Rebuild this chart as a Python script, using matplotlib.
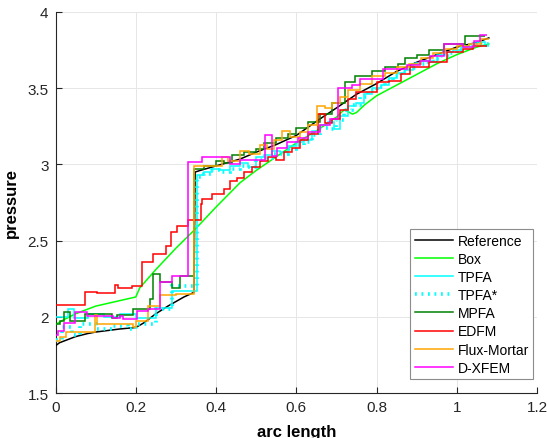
import matplotlib
matplotlib.use("Agg")
import matplotlib.pyplot as plt
from matplotlib.lines import Line2D

plt.rcParams['font.family'] = ['Liberation Sans', 'DejaVu Sans']

# ---------------- data ----------------
ref_x = [0, 0.01, 0.03, 0.05, 0.08, 0.10, 0.13, 0.16, 0.20, 0.22, 0.25, 0.28, 0.30, 0.32, 0.345,
         0.348, 0.36, 0.40, 0.46, 0.50, 0.55, 0.60, 0.66, 0.70, 0.75, 0.80, 0.85, 0.90, 0.95, 1.00, 1.05, 1.08]
ref_y = [1.81, 1.83, 1.85, 1.87, 1.89, 1.90, 1.91, 1.92, 1.93, 1.96, 2.02, 2.07, 2.10, 2.13, 2.16,
         2.95, 2.96, 2.99, 3.035, 3.08, 3.13, 3.19, 3.30, 3.37, 3.46, 3.53, 3.61, 3.67, 3.72, 3.77, 3.80, 3.83]

box_x = [0, 0.02, 0.05, 0.10, 0.15, 0.20, 0.21, 0.25, 0.30, 0.35, 0.40, 0.46, 0.50, 0.55, 0.60, 0.65,
         0.70, 0.72, 0.74, 0.75, 0.77, 0.80, 0.85, 0.90, 0.95, 1.00, 1.05, 1.08]
box_y = [1.95, 1.98, 2.02, 2.07, 2.10, 2.13, 2.19, 2.31, 2.45, 2.58, 2.72, 2.88, 2.96, 3.05, 3.14, 3.22,
         3.31, 3.36, 3.33, 3.34, 3.39, 3.45, 3.52, 3.59, 3.66, 3.72, 3.77, 3.79]

tpfa_edges = [0, 0.03, 0.045, 0.08, 0.12, 0.16, 0.2, 0.25, 0.29, 0.352, 0.37, 0.39, 0.41, 0.435, 0.46,
              0.48, 0.5, 0.52, 0.54, 0.56, 0.58, 0.6, 0.62, 0.64, 0.66, 0.68, 0.695, 0.71, 0.73, 0.75,
              0.77, 0.79, 0.81, 0.83, 0.85, 0.87, 0.89, 0.91, 0.93, 0.95, 0.97, 0.99, 1.01, 1.03, 1.05,
              1.07, 1.08]
tpfa_vals = [2.00, 2.05, 1.99, 2.02, 2.00, 2.02, 1.99, 2.06, 2.17, 2.93, 2.95, 2.97, 2.96, 2.99, 3.01,
             2.98, 3.05, 3.06, 3.09, 3.08, 3.12, 3.15, 3.16, 3.22, 3.26, 3.28, 3.23, 3.32, 3.38, 3.40,
             3.46, 3.50, 3.52, 3.57, 3.60, 3.62, 3.66, 3.68, 3.67, 3.72, 3.74, 3.75, 3.77, 3.79, 3.80, 3.78]

tpfas_edges = [0, 0.015, 0.04, 0.06, 0.1, 0.14, 0.18, 0.2, 0.25, 0.29, 0.352, 0.37, 0.39, 0.41, 0.435,
               0.46, 0.48, 0.5, 0.52, 0.54, 0.56, 0.58, 0.6, 0.62, 0.64, 0.66, 0.68, 0.7, 0.72, 0.74,
               0.76, 0.78, 0.8, 0.82, 0.84, 0.86, 0.88, 0.9, 0.92, 0.94, 0.96, 0.98, 1.0, 1.02, 1.04,
               1.06, 1.08]
tpfas_vals = [1.85, 1.93, 1.88, 1.95, 1.92, 1.94, 1.92, 1.95, 2.05, 2.20, 2.92, 2.94, 2.96, 2.95, 2.97,
              2.99, 2.98, 3.03, 3.04, 3.07, 3.07, 3.10, 3.13, 3.15, 3.19, 3.24, 3.23, 3.29, 3.36, 3.39,
              3.44, 3.48, 3.51, 3.55, 3.58, 3.61, 3.63, 3.66, 3.67, 3.69, 3.71, 3.73, 3.75, 3.77, 3.79, 3.79]

mpfa_edges = [0, 0.011, 0.02, 0.036, 0.074, 0.14, 0.152, 0.194, 0.236, 0.244, 0.26, 0.29, 0.31, 0.345,
              0.37, 0.4, 0.42, 0.44, 0.47, 0.5, 0.52, 0.55, 0.58, 0.6, 0.63, 0.66, 0.69, 0.722, 0.747,
              0.788, 0.82, 0.854, 0.871, 0.9, 0.93, 0.967, 1.02, 1.07]
mpfa_vals = [1.95, 1.975, 2.03, 1.97, 2.02, 1.99, 2.01, 2.05, 2.12, 2.28, 2.23, 2.19, 2.27, 2.97,
             2.99, 3.02, 3.01, 3.06, 3.08, 3.10, 3.14, 3.17, 3.20, 3.24, 3.28, 3.33, 3.40, 3.54, 3.58,
             3.615, 3.64, 3.66, 3.70, 3.72, 3.75, 3.79, 3.84]

edfm_edges = [0, 0.074, 0.103, 0.148, 0.155, 0.19, 0.216, 0.243, 0.276, 0.289, 0.303, 0.329, 0.362,
              0.366, 0.389, 0.419, 0.436, 0.452, 0.47, 0.49, 0.51, 0.53, 0.55, 0.57, 0.59, 0.61, 0.63,
              0.655, 0.672, 0.69, 0.71, 0.73, 0.75, 0.80, 0.83, 0.86, 0.884, 0.93, 0.976, 1.016, 1.04,
              1.075]
edfm_vals = [2.08, 2.165, 2.155, 2.21, 2.19, 2.20, 2.357, 2.412, 2.467, 2.554, 2.594, 2.635, 2.74,
             2.773, 2.806, 2.84, 2.888, 2.91, 2.95, 2.98, 3.02, 3.05, 3.03, 3.08, 3.11, 3.16, 3.20,
             3.33, 3.27, 3.30, 3.36, 3.43, 3.475, 3.54, 3.55, 3.59, 3.64, 3.67, 3.74, 3.76, 3.78]

fm_edges = [0, 0.012, 0.025, 0.099, 0.103, 0.194, 0.2, 0.23, 0.26, 0.30, 0.345, 0.414, 0.431, 0.46,
            0.481, 0.51, 0.527, 0.545, 0.564, 0.585, 0.61, 0.63, 0.651, 0.672, 0.69, 0.71, 0.73, 0.76,
            0.79, 0.82, 0.85, 0.88, 0.91, 0.94, 0.97, 1.0, 1.03, 1.06, 1.08]
fm_vals = [1.84, 1.87, 1.90, 2.01, 1.95, 1.93, 1.975, 2.07, 2.14, 2.15, 2.99, 3.05, 3.02, 3.09,
           3.07, 3.13, 3.10, 3.16, 3.22, 3.18, 3.21, 3.26, 3.385, 3.37, 3.40, 3.44, 3.49, 3.53,
           3.58, 3.60, 3.64, 3.66, 3.70, 3.73, 3.76, 3.78, 3.79, 3.82]

dx_edges = [0, 0.007, 0.02, 0.049, 0.078, 0.144, 0.161, 0.169, 0.202, 0.231, 0.26, 0.29, 0.331, 0.364,
            0.435, 0.46, 0.522, 0.539, 0.551, 0.577, 0.605, 0.63, 0.66, 0.684, 0.705, 0.74, 0.759,
            0.817, 0.875, 0.909, 0.934, 0.967, 1.016, 1.042, 1.058, 1.075]
dx_vals = [1.88, 1.91, 1.96, 2.03, 2.007, 1.99, 2.007, 1.985, 2.04, 2.05, 2.23, 2.27, 3.014, 3.05,
           3.00, 3.03, 3.19, 3.055, 3.11, 3.145, 3.17, 3.21, 3.26, 3.30, 3.50, 3.52, 3.56, 3.625,
           3.65, 3.68, 3.71, 3.79, 3.77, 3.81, 3.85]

labels = ['Reference', 'Box', 'TPFA', 'TPFA*', 'MPFA', 'EDFM', 'Flux-Mortar', 'D-XFEM']
colors = ['#000000', '#00FF00', '#00FFFF', '#00FFFF', '#008000', '#FF0000', '#FFA500', '#FF00FF']
x_ticks = [0, 0.2, 0.4, 0.6, 0.8, 1.0, 1.2]
x_tick_labels = ['0', '0.2', '0.4', '0.6', '0.8', '1', '1.2']
y_ticks = [1.5, 2, 2.5, 3, 3.5, 4]
y_tick_labels = ['1.5', '2', '2.5', '3', '3.5', '4']

# ---------------- figure ----------------
fig = plt.figure(figsize=(5.47, 4.39), dpi=100)
ax = fig.add_axes([0.1015, 0.1025, 0.8802, 0.8679])

lw = 1.1
dotted = (0, (0.5, 1.3))
ax.plot(ref_x, ref_y, color=colors[0], lw=lw, zorder=3)
ax.plot(box_x, box_y, color=colors[1], lw=lw, zorder=3)
ax.stairs(tpfa_vals, tpfa_edges, baseline=None, color=colors[2], lw=lw, zorder=3)
ax.stairs(tpfas_vals, tpfas_edges, baseline=None, color=colors[3], lw=2.6,
          linestyle=dotted, zorder=3)
ax.stairs(mpfa_vals, mpfa_edges, baseline=None, color=colors[4], lw=lw, zorder=3)
ax.stairs(edfm_vals, edfm_edges, baseline=None, color=colors[5], lw=lw, zorder=3)
ax.stairs(fm_vals, fm_edges, baseline=None, color=colors[6], lw=lw, zorder=3)
ax.stairs(dx_vals, dx_edges, baseline=None, color=colors[7], lw=lw, zorder=3)

ax.set_xlim(0, 1.2)
ax.set_ylim(1.5, 4)
ax.set_xticks(x_ticks)
ax.set_xticklabels(x_tick_labels)
ax.set_yticks(y_ticks)
ax.set_yticklabels(y_tick_labels)
ax.tick_params(direction='in', length=4, width=0.8, labelsize=11, colors='#262626', pad=5)
ax.grid(True, color='#e6e6e6', lw=0.7, zorder=0)
ax.set_axisbelow(True)
for s in ['top', 'right']:
    ax.spines[s].set_visible(False)
for s in ['left', 'bottom']:
    ax.spines[s].set_color('#262626')
    ax.spines[s].set_linewidth(0.8)

ax.set_xlabel('arc length', fontsize=12, fontweight='bold', labelpad=7)
ax.set_ylabel('pressure', fontsize=12, fontweight='bold', labelpad=12)
ax.yaxis.set_label_coords(-0.077, 0.5)

handles = []
for lab, c in zip(labels, colors):
    if lab == 'TPFA*':
        handles.append(Line2D([], [], color=c, lw=2.6, linestyle=dotted))
    else:
        handles.append(Line2D([], [], color=c, lw=1.1))
leg = ax.legend(handles, labels, loc='lower right', bbox_to_anchor=(0.992, 0.037),
                borderaxespad=0, fontsize=10, handlelength=2.8, handletextpad=0.3,
                labelspacing=0.3, borderpad=0.3, fancybox=False, framealpha=1)
leg.get_frame().set_edgecolor('#8c8c8c')
leg.get_frame().set_linewidth(0.8)

fig.savefig('out.png', dpi=100)
